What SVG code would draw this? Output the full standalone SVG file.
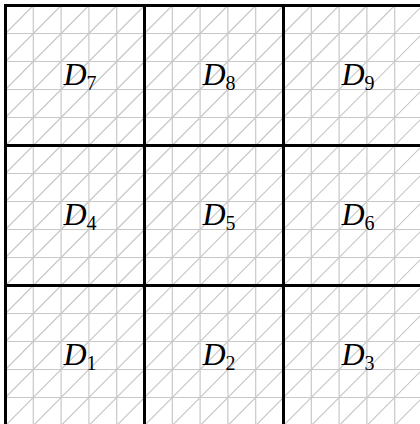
<svg xmlns="http://www.w3.org/2000/svg" width="420" height="424" viewBox="0 0 420 424">
<style>
.thin{stroke:#c8c8c8;stroke-width:1.2;fill:none}
.thick{stroke:#000;stroke-width:3;fill:none}
.lbl{font-family:"Liberation Serif",serif;font-size:32px;fill:#000;text-anchor:middle}
.m{font-style:italic}
.s{font-size:20px}
</style>
<defs>
<clipPath id="c"><rect x="5.5" y="5.5" width="417" height="420"/></clipPath>
</defs>
<rect width="420" height="424" fill="#fff"/>
<g id="connectors">
<g id="grid" class="thin">
<path d="M33.3 5.5V425.5M61.1 5.5V425.5M88.9 5.5V425.5M116.7 5.5V425.5M172.3 5.5V425.5M200.1 5.5V425.5M227.9 5.5V425.5M255.7 5.5V425.5M311.3 5.5V425.5M339.1 5.5V425.5M366.9 5.5V425.5M394.7 5.5V425.5"/>
<path d="M5.5 33.5H422.5M5.5 61.5H422.5M5.5 89.5H422.5M5.5 117.5H422.5M5.5 173.5H422.5M5.5 201.5H422.5M5.5 229.5H422.5M5.5 257.5H422.5M5.5 313.5H422.5M5.5 341.5H422.5M5.5 369.5H422.5M5.5 397.5H422.5"/>
<g clip-path="url(#c)">
<path d="M5.5 33.5L33.3 5.5M5.5 61.5L61.1 5.5M5.5 89.5L88.9 5.5M5.5 117.5L116.7 5.5M5.5 145.5L144.5 5.5M5.5 173.5L172.3 5.5M5.5 201.5L200.1 5.5M5.5 229.5L227.9 5.5M5.5 257.5L255.7 5.5M5.5 285.5L283.5 5.5M5.5 313.5L311.3 5.5M5.5 341.5L339.1 5.5M5.5 369.5L366.9 5.5M5.5 397.5L394.7 5.5M5.5 425.5L422.5 5.5M5.5 453.5L450.3 5.5M5.5 481.5L478.1 5.5M5.5 509.5L505.9 5.5M5.5 537.5L533.7 5.5M5.5 565.5L561.5 5.5M5.5 593.5L589.3 5.5M5.5 621.5L617.1 5.5M5.5 649.5L644.9 5.5M5.5 677.5L672.7 5.5M5.5 705.5L700.5 5.5M5.5 733.5L728.3 5.5M5.5 761.5L756.1 5.5M5.5 789.5L783.9 5.5M5.5 817.5L811.7 5.5M5.5 845.5L839.5 5.5"/>
</g>
</g>
<g id="borders" class="thick">
<path d="M5.5 4V425M144.5 4V425M283.5 4V425"/>
<path d="M4 5.5H421M4 145.5H421M4 285.5H421"/>
</g>
</g>
<g id="D7"><text class="lbl" x="80" y="85"><tspan class="m">D</tspan><tspan class="s" dy="5">7</tspan></text></g>
<g id="D8"><text class="lbl" x="219" y="85"><tspan class="m">D</tspan><tspan class="s" dy="5">8</tspan></text></g>
<g id="D9"><text class="lbl" x="358" y="85"><tspan class="m">D</tspan><tspan class="s" dy="5">9</tspan></text></g>
<g id="D4"><text class="lbl" x="80" y="225"><tspan class="m">D</tspan><tspan class="s" dy="5">4</tspan></text></g>
<g id="D5"><text class="lbl" x="219" y="225"><tspan class="m">D</tspan><tspan class="s" dy="5">5</tspan></text></g>
<g id="D6"><text class="lbl" x="358" y="225"><tspan class="m">D</tspan><tspan class="s" dy="5">6</tspan></text></g>
<g id="D1"><text class="lbl" x="80" y="365"><tspan class="m">D</tspan><tspan class="s" dy="5">1</tspan></text></g>
<g id="D2"><text class="lbl" x="219" y="365"><tspan class="m">D</tspan><tspan class="s" dy="5">2</tspan></text></g>
<g id="D3"><text class="lbl" x="358" y="365"><tspan class="m">D</tspan><tspan class="s" dy="5">3</tspan></text></g>
</svg>
